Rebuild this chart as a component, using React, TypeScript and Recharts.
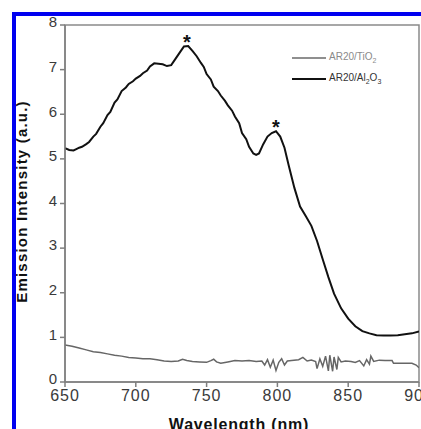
import { LineChart, Line, XAxis, YAxis, Legend, ReferenceArea, ReferenceDot } from "recharts";

// AR20/Al2O3 emission (black)
const al2o3Wl = [
  650, 653, 656, 658, 660, 662, 665, 667, 670, 672, 675, 677, 680, 682, 685, 687, 690, 693, 695, 698,
  700, 703, 705, 708, 710, 713, 716, 719, 722, 725, 728, 731, 734, 737, 740, 743, 746, 748, 750, 753,
  755, 758, 760, 763, 765, 768, 770, 773, 775, 778, 780, 783, 785, 787, 790, 793, 796, 799, 802, 805,
  808, 810, 812, 816, 820, 824, 828, 832, 836, 840, 845, 850, 855, 860, 865, 870, 875, 880, 885, 890,
  895, 900,
];
const al2o3Int = [
  5.24, 5.2, 5.19, 5.22, 5.25, 5.27, 5.33, 5.38, 5.5, 5.56, 5.72, 5.8, 5.98, 6.05, 6.26, 6.33, 6.52, 6.6, 6.68, 6.74,
  6.8, 6.86, 6.92, 6.98, 7.07, 7.14, 7.13, 7.12, 7.08, 7.1, 7.24, 7.38, 7.52, 7.53, 7.42, 7.3, 7.15, 7.06, 6.9, 6.78,
  6.62, 6.52, 6.42, 6.3, 6.2, 6.08, 5.95, 5.8, 5.58, 5.44, 5.27, 5.12, 5.09, 5.12, 5.33, 5.5, 5.58, 5.62, 5.5, 5.25,
  4.85, 4.6, 4.35, 3.93, 3.72, 3.5, 3.16, 2.75, 2.35, 1.98, 1.65, 1.42, 1.25, 1.14, 1.09, 1.05, 1.04, 1.04, 1.05, 1.07,
  1.09, 1.13,
];

// AR20/TiO2 emission (grey)
const tio2Wl = [
  650, 655, 660, 665, 670, 675, 680, 685, 690, 695, 700, 705, 710, 715, 720, 725, 730, 733, 736, 740,
  745, 750, 753, 755, 757, 760, 765, 770, 775, 780, 785, 789, 791, 793, 795, 797, 799, 801, 803, 805,
  807, 810, 815, 818, 821, 824, 827, 828, 830, 832, 834, 836, 837, 839, 840, 842, 843, 845, 848, 852,
  855, 858, 861, 863, 865, 866, 868, 872, 876, 881, 882, 886, 890, 895, 898, 900,
];
const tio2Int = [
  0.83, 0.8, 0.76, 0.72, 0.68, 0.66, 0.63, 0.6, 0.58, 0.55, 0.54, 0.52, 0.52, 0.5, 0.47, 0.46, 0.47, 0.51, 0.48, 0.46,
  0.45, 0.44, 0.48, 0.51, 0.45, 0.42, 0.45, 0.48, 0.47, 0.48, 0.46, 0.47, 0.38, 0.5, 0.33, 0.49, 0.26, 0.44, 0.52, 0.38,
  0.47, 0.48, 0.5, 0.55, 0.47, 0.49, 0.46, 0.3, 0.52, 0.35, 0.58, 0.25, 0.6, 0.24, 0.56, 0.28, 0.55, 0.45, 0.47, 0.46,
  0.44, 0.48, 0.36, 0.5, 0.4, 0.58, 0.46, 0.49, 0.48, 0.48, 0.42, 0.42, 0.42, 0.42, 0.38, 0.32,
];

const xTicks = [650, 700, 750, 800, 850, 900];
const yTicks = [0, 1, 2, 3, 4, 5, 6, 7, 8];
const peaks = [
  { wl: 736, value: 7.53 },
  { wl: 799, value: 5.62 },
];

const al2o3Data = al2o3Wl.map((wl, i) => ({ wl, value: al2o3Int[i] }));
const tio2Data = tio2Wl.map((wl, i) => ({ wl, value: tio2Int[i] }));

const font = "Arial, 'Liberation Sans', Helvetica, sans-serif";

function LegendBox() {
  const rows = [
    { name: "AR20/TiO", sub: ["2"], color: "#6a6a6a", text: "#8a8a8a" },
    { name: "AR20/Al", sub: ["2", "3"], color: "#111", text: "#333" },
  ];
  return (
    <div style={{ fontFamily: font, fontSize: 10 }}>
      {rows.map((r, i) => (
        <div key={i} style={{ display: "flex", alignItems: "center", height: 21 }}>
          <svg width={34} height={4} style={{ marginRight: 3 }}>
            <line x1={0} y1={2} x2={34} y2={2} stroke={r.color} strokeWidth={i === 0 ? 1.5 : 2} />
          </svg>
          <span style={{ color: r.text }}>
            {r.name}
            <sub style={{ fontSize: 7 }}>{r.sub[0]}</sub>
            {r.sub.length > 1 ? (
              <>
                O<sub style={{ fontSize: 7 }}>{r.sub[1]}</sub>
              </>
            ) : null}
          </span>
        </div>
      ))}
    </div>
  );
}

export default function App() {
  return (
    <div style={{ position: "absolute", left: 0, top: 0, width: 421, height: 429, background: "#fff", overflow: "hidden" }}>
      <LineChart width={421} height={429} margin={{ top: 25, right: 2, left: 0, bottom: 0 }}>
        <ReferenceArea x1={650} x2={900} y1={0} y2={8} fill="none" stroke="#8a8a8a" strokeWidth={1.5} />
        <XAxis
          type="number"
          dataKey="wl"
          domain={[650, 900]}
          ticks={xTicks}
          interval={0}
          height={47}
          allowDataOverflow
          stroke="#7f7f7f"
          strokeWidth={1.5}
          tickSize={5}
          tickMargin={3}
          tick={{ fill: "#3a3a3a", fontSize: 16, fontFamily: font, letterSpacing: 1 }}
          label={{
            value: "Wavelength (nm)",
            position: "insideBottom",
            offset: -1,
            dx: -3,
            style: { fill: "#111", fontSize: 16, fontWeight: "bold", fontFamily: font, letterSpacing: 0.8 },
          }}
        />
        <YAxis
          type="number"
          domain={[0, 8]}
          ticks={yTicks}
          interval={0}
          width={65}
          allowDataOverflow
          stroke="#7f7f7f"
          strokeWidth={1.5}
          tickSize={5}
          tickMargin={3}
          tick={{ fill: "#3a3a3a", fontSize: 15, fontFamily: font, dy: -3 }}
          label={{
            value: "Emission Intensity (a.u.)",
            angle: -90,
            position: "center",
            dx: -11,
            dy: -2,
            style: { fill: "#111", fontSize: 15, fontWeight: "bold", fontFamily: font, letterSpacing: 1.2 },
          }}
        />
        <Line
          data={tio2Data}
          dataKey="value"
          name="AR20/TiO2"
          stroke="#666"
          strokeWidth={1.5}
          dot={false}
          isAnimationActive={false}
        />
        <Line
          data={al2o3Data}
          dataKey="value"
          name="AR20/Al2O3"
          stroke="#111"
          strokeWidth={2}
          dot={false}
          isAnimationActive={false}
        />
        {peaks.map((p) => (
          <ReferenceDot
            key={p.wl}
            x={p.wl}
            y={p.value}
            r={1}
            fill="none"
            stroke="none"
            label={{
              content: (props: any) => (
                <text
                  x={props.viewBox.x + 1}
                  y={props.viewBox.y + 4}
                  textAnchor="middle"
                  fontSize={20}
                  fontWeight="bold"
                  fontFamily={font}
                  fill="#111"
                >
                  *
                </text>
              ),
            }}
          />
        ))}
        <Legend
          layout="vertical"
          align="center"
          verticalAlign="middle"
          content={() => <LegendBox />}
          wrapperStyle={{ position: "absolute", top: 47, left: 292, width: 120 }}
        />
      </LineChart>
      <div
        style={{
          position: "absolute",
          left: 12,
          top: 12,
          right: 0,
          bottom: 0,
          borderLeft: "4px solid #0000f0",
          borderTop: "4px solid #0000f0",
          pointerEvents: "none",
        }}
      />
    </div>
  );
}
